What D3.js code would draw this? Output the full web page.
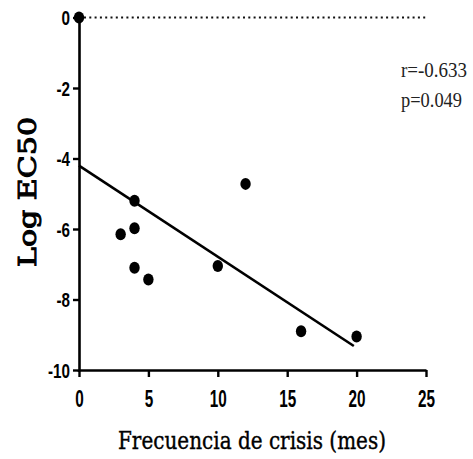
<!DOCTYPE html>
<html>
<head>
<meta charset="utf-8">
<script src="https://cdn.jsdelivr.net/npm/d3@7"></script>
<style>
  html, body { margin: 0; padding: 0; background: #fff; }
  svg { display: block; }
</style>
</head>
<body>
<svg id="chart" width="473" height="459"></svg>
<script>
// Seizure frequency per month vs. Log EC50
const frequency = [0, 3, 4, 4, 4, 5, 10, 12, 16, 20];
const logEC50 = [0, -6.15, -5.2, -5.98, -7.1, -7.43, -7.05, -4.72, -8.9, -9.05];

// Fitted regression line endpoints
const fitX = [0, 19.8];
const fitY = [-4.2, -9.32];

const xTicks = [0, 5, 10, 15, 20, 25];
const yTicks = [0, -2, -4, -6, -8, -10];

const statLines = ["r=-0.633", "p=0.049"];

const svg = d3.select("#chart");

const x = d3.scaleLinear().domain([0, 25]).range([79, 426]);
const y = d3.scaleLinear().domain([-10, 0]).range([370, 17.5]);

const numFont = "'Liberation Sans', Arial, sans-serif";
const plainFormat = d => String(d);
// condensed width of a tick label: digits ~8.5px, hyphen ~5px
const labelWidth = s => s.split("").reduce((w, c) => w + (c === "-" ? 5 : 8.5), 0);

// Reference line at y = 0
svg.append("line")
  .attr("x1", x(0) + 5).attr("x2", x(25))
  .attr("y1", y(0)).attr("y2", y(0))
  .attr("stroke", "#111")
  .attr("stroke-width", 2.2)
  .attr("stroke-dasharray", "2,3.3");

// X axis
const xAxis = svg.append("g")
  .attr("transform", `translate(0,${y(-10)})`)
  .call(d3.axisBottom(x).tickValues(xTicks).tickFormat(plainFormat)
    .tickSize(7).tickPadding(13).tickSizeOuter(0));

// Y axis
const yAxis = svg.append("g")
  .attr("transform", `translate(${x(0)},0)`)
  .call(d3.axisLeft(y).tickValues(yTicks).tickFormat(plainFormat)
    .tickSize(6).tickPadding(3).tickSizeOuter(0));

[xAxis, yAxis].forEach(g => {
  g.select(".domain").attr("stroke", "#000").attr("stroke-width", 2.6);
  g.selectAll(".tick line").attr("stroke", "#000").attr("stroke-width", 2.4);
  g.selectAll(".tick text")
    .attr("fill", "#000")
    .attr("textLength", d => labelWidth(String(d)))
    .attr("lengthAdjust", "spacingAndGlyphs")
    .style("font-family", numFont)
    .style("font-weight", "bold");
});
xAxis.selectAll(".tick text").attr("dy", "0.71em").style("font-size", "23.5px");
yAxis.selectAll(".tick text").attr("dy", "0.36em").style("font-size", "20px");

// Close the lower-left corner of the axes
svg.append("line")
  .attr("x1", x(0)).attr("x2", x(0))
  .attr("y1", y(-10)).attr("y2", y(-10) + 2)
  .attr("stroke", "#000").attr("stroke-width", 2.6);

// Regression line
svg.append("line")
  .attr("x1", x(fitX[0])).attr("y1", y(fitY[0]))
  .attr("x2", x(fitX[1])).attr("y2", y(fitY[1]))
  .attr("stroke", "#000")
  .attr("stroke-width", 2.6);

// Data points
svg.append("g")
  .selectAll("ellipse")
  .data(frequency.map((f, i) => ({ f, v: logEC50[i] })))
  .join("ellipse")
  .attr("cx", d => x(d.f))
  .attr("cy", d => y(d.v))
  .attr("rx", 5.2)
  .attr("ry", 6)
  .attr("fill", "#000");

// Axis titles
svg.append("text")
  .attr("x", 252).attr("y", 449)
  .attr("text-anchor", "middle")
  .attr("textLength", 268)
  .attr("lengthAdjust", "spacingAndGlyphs")
  .style("font-family", "'DejaVu Serif', 'Liberation Serif', serif")
  .style("font-size", "24px")
  .attr("fill", "#000")
  .attr("stroke", "#000")
  .attr("stroke-width", 0.4)
  .text("Frecuencia de crisis (mes)");

svg.append("text")
  .attr("transform", "translate(36,192) rotate(-90)")
  .attr("text-anchor", "middle")
  .attr("textLength", 150)
  .attr("lengthAdjust", "spacingAndGlyphs")
  .style("font-family", "'DejaVu Serif', 'Liberation Serif', serif")
  .style("font-size", "25px")
  .attr("fill", "#000")
  .attr("stroke", "#000")
  .attr("stroke-width", 1)
  .text("Log EC50");

// Correlation statistics
svg.append("g")
  .selectAll("text")
  .data(statLines)
  .join("text")
  .attr("x", 401)
  .attr("y", (d, i) => 77 + i * 30)
  .attr("textLength", (d, i) => i === 0 ? 66 : 61)
  .attr("lengthAdjust", "spacingAndGlyphs")
  .style("font-family", "'Liberation Serif', 'DejaVu Serif', serif")
  .style("font-size", "21px")
  .attr("fill", "#222")
  .text(d => d);
</script>
</body>
</html>
